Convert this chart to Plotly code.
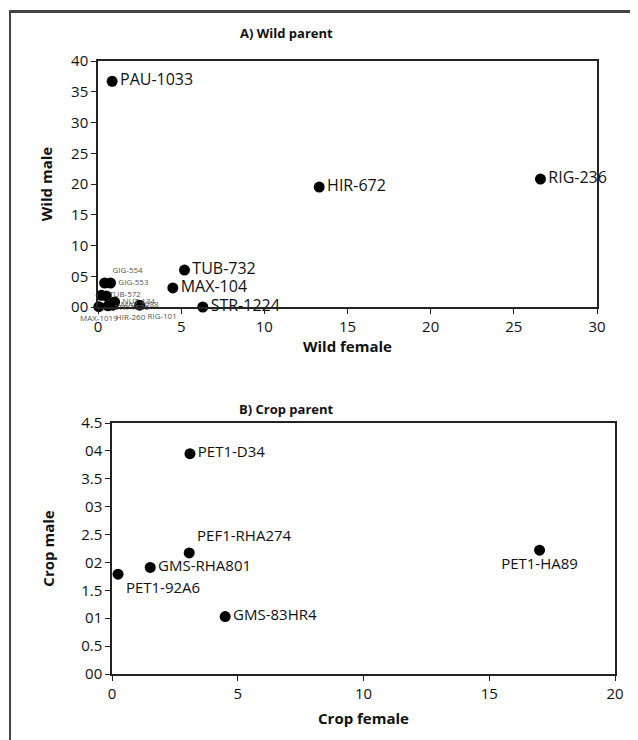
import plotly.graph_objects as go

OFF = 8  # page body margin
W, H = 638 - OFF, 740 - OFF

# ---- Panel A: wild parent ----
wild_names = ["PAU-1033", "HIR-672", "RIG-236", "TUB-732", "MAX-104", "STR-1224",
              "GIG-554", "GIG-553", "TUB-572", "STR-1506", "NUT-134", "MAX-1088",
              "HIR-260", "MAX-1019", "RIG-101"]
wild_female = [0.85, 13.3, 26.6, 5.2, 4.5, 6.3,
               0.4, 0.75, 0.2, 0.5, 1.0, 0.9,
               0.6, 0.05, 2.5]
wild_male = [36.7, 19.5, 20.8, 6.0, 3.1, 0.0,
             3.9, 3.9, 1.9, 1.8, 0.8, 0.3,
             0.2, 0.05, 0.3]
wild_textpos = ["middle right"] * 6 + ["top right", "middle right", "middle right", "bottom right",
                                       "middle right", "middle right", "bottom right",
                                       "bottom center", "bottom right"]
wild_textsize = [16] * 6 + [8] * 9
wild_textcolor = ["#111"] * 6 + ["#555"] * 9

# ---- Panel B: crop parent ----
crop_names = ["PET1-D34", "PEF1-RHA274", "GMS-RHA801", "PET1-92A6", "GMS-83HR4", "PET1-HA89"]
crop_female = [3.1, 3.07, 1.52, 0.24, 4.5, 17.0]
crop_male = [3.95, 2.17, 1.91, 1.79, 1.03, 2.22]
crop_textpos = ["middle right", "top right", "middle right", "bottom right", "middle right", "bottom center"]

wild_xticks = [0, 5, 10, 15, 20, 25, 30]
wild_yticks = [0, 5, 10, 15, 20, 25, 30, 35, 40]
wild_ytick_labels = ["00", "05", "10", "15", "20", "25", "30", "35", "40"]
crop_xticks = [0, 5, 10, 15, 20]
crop_yticks = [0, 0.5, 1, 1.5, 2, 2.5, 3, 3.5, 4, 4.5]
crop_ytick_labels = ["00", "0.5", "01", "1.5", "02", "2.5", "03", "3.5", "04", "4.5"]

FONT = "Open Sans"

fig = go.Figure()
fig.add_trace(go.Scatter(
    x=wild_female, y=wild_male, mode="markers+text", text=wild_names,
    textposition=wild_textpos,
    textfont=dict(family=FONT, size=wild_textsize, color=wild_textcolor),
    marker=dict(color="black", size=11), cliponaxis=False, showlegend=False,
    xaxis="x", yaxis="y"))
fig.add_trace(go.Scatter(
    x=crop_female, y=crop_male, mode="markers+text", text=crop_names,
    textposition=crop_textpos,
    textfont=dict(family=FONT, size=15, color="#111"),
    marker=dict(color="black", size=11), cliponaxis=False, showlegend=False,
    xaxis="x2", yaxis="y2"))

def px(v):
    return (v - OFF) / W

def py(v):
    return 1 - (v - OFF) / H

axis_common = dict(showgrid=False, zeroline=False, showline=True, linecolor="#222",
                   linewidth=1.5, mirror=True, ticks="outside", ticklen=5,
                   tickcolor="#222", tickfont=dict(family=FONT, size=15, color="#111"))
title_font = dict(family=FONT, size=15, color="#111")

fig.update_layout(
    width=W, height=H,
    margin=dict(l=0, r=0, t=0, b=0, autoexpand=False),
    paper_bgcolor="white", plot_bgcolor="white",
    xaxis=dict(domain=[px(98), px(597)], range=[0, 30], tickvals=wild_xticks,
               anchor="y", **axis_common,
               title=dict(text="<b>Wild female</b>", font=title_font, standoff=0)),
    yaxis=dict(domain=[py(307), py(61)], range=[0, 40], tickvals=wild_yticks,
               ticktext=wild_ytick_labels, anchor="x", **axis_common,
               title=dict(text="<b>Wild male</b>", font=title_font, standoff=15)),
    xaxis2=dict(domain=[px(112), px(615)], range=[0, 20], tickvals=crop_xticks,
                anchor="y2", **axis_common,
                title=dict(text="<b>Crop female</b>", font=title_font, standoff=12)),
    yaxis2=dict(domain=[py(674), py(423)], range=[0, 4.5], tickvals=crop_yticks,
                ticktext=crop_ytick_labels, anchor="x2", **axis_common,
                title=dict(text="<b>Crop male</b>", font=title_font, standoff=23)),
    annotations=[
        dict(text="<b>A) Wild parent</b>", x=px(286), y=py(33), xref="paper", yref="paper",
             xanchor="center", yanchor="middle",
             showarrow=False, font=dict(family=FONT, size=13, color="#111")),
        dict(text="<b>B) Crop parent</b>", x=px(286), y=py(409), xref="paper", yref="paper",
             xanchor="center", yanchor="middle",
             showarrow=False, font=dict(family=FONT, size=13, color="#111")),
    ],
    shapes=[
        dict(type="rect", xref="paper", yref="paper", x0=px(9), y0=py(13), x1=1.0, y1=py(10),
             line=dict(width=0), fillcolor="#444", layer="above"),
        dict(type="rect", xref="paper", yref="paper", x0=px(9), y0=0.0, x1=px(11), y1=py(10),
             line=dict(width=0), fillcolor="#444", layer="above"),
    ],
)

fig.write_html("out.html", config={"displayModeBar": False})
